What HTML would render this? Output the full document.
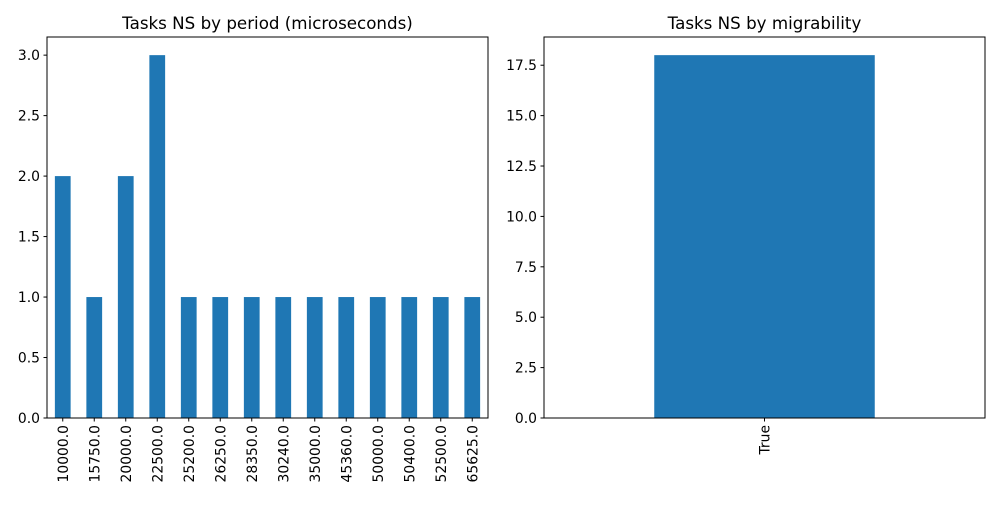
<!DOCTYPE html>
<html><head><meta charset="utf-8"><style>
body{margin:0;background:#fff;}
svg text{font-family:"DejaVu Sans","Liberation Sans",sans-serif;fill:#000;}
</style></head><body>
<svg id="chart" width="1000" height="500" xmlns="http://www.w3.org/2000/svg">
<rect width="1000" height="500" fill="#fff"/>
</svg>
<script>
const periodCategories=["10000.0","15750.0","20000.0","22500.0","25200.0","26250.0","28350.0","30240.0","35000.0","45360.0","50000.0","50400.0","52500.0","65625.0"];
const periodCounts=[2,1,2,3,1,1,1,1,1,1,1,1,1,1];
const periodTicks=[0,0.5,1,1.5,2,2.5,3];
const migCategories=["True"];
const migCounts=[18];
const migTicks=[0,2.5,5,7.5,10,12.5,15,17.5];

const svg=document.getElementById('chart');
const NS="http://www.w3.org/2000/svg";
function mk(tag,attrs,parent){const e=document.createElementNS(NS,tag);for(const k in attrs)e.setAttribute(k,attrs[k]);(parent||svg).appendChild(e);return e;}

function drawPanel(x0,x1,y0,y1,cats,vals,ticks,title,prefix){
  const g=mk('g',{});
  
  
  const ymax=Math.max(...vals)*1.05;
  const ys=v=>y1-(v/ymax)*(y1-y0);
  const n=cats.length;
  const slot=(x1-x0)/n;
  const xs=i=>x0+slot*(i+0.5);
  vals.forEach((v,i)=>{
    const r=mk('rect',{x:xs(i)-slot/4,y:ys(v),width:slot/2,height:y1-ys(v),fill:'#1f77b4'},g);
    
    
  });
  const fr=mk('rect',{x:x0,y:y0,width:x1-x0,height:y1-y0,fill:'none',stroke:'#000','stroke-width':1},g);
  
  
  ticks.forEach(t=>{
    const y=ys(t);
    mk('line',{x1:x0-3.5,x2:x0,y1:y,y2:y,stroke:'#000'},g);
    const tx=mk('text',{x:x0-7,y:y+5,'text-anchor':'end','font-size':'13.9px'},g);
    tx.textContent=t.toFixed(1);
    
    
  });
  cats.forEach((c,i)=>{
    const x=xs(i);
    mk('line',{x1:x,x2:x,y1:y1,y2:y1+3.5,stroke:'#000'},g);
    const tx=mk('text',{x:0,y:0,'text-anchor':'end','font-size':'13.9px',transform:`translate(${x+5},${y1+7}) rotate(-90)`},g);
    tx.textContent=c;
    
    
  });
  const tt=mk('text',{x:(x0+x1)/2,y:y0-8,'text-anchor':'middle','font-size':'16.7px'},g);
  tt.textContent=title;
  
  
}
drawPanel(47,488,37,418,periodCategories,periodCounts,periodTicks,"Tasks NS by period (microseconds)","period");
drawPanel(544,985,37,418,migCategories,migCounts,migTicks,"Tasks NS by migrability","migrability");
</script>
</body></html>
